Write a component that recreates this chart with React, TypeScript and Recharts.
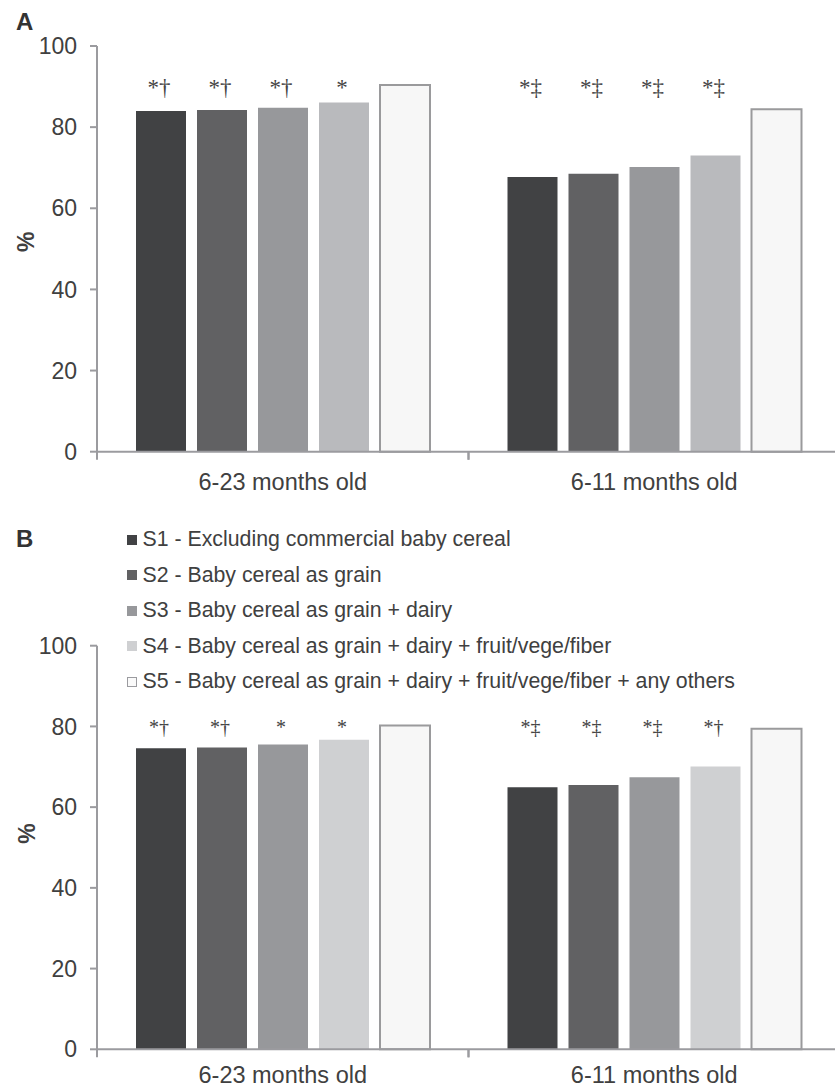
import { BarChart, Bar, XAxis, YAxis, LabelList, Legend, Label } from 'recharts';

const groups = ['6-23 months old', '6-11 months old'];
const yTicks = [0, 20, 40, 60, 80, 100];

const seriesNames = [
  'S1 - Excluding commercial baby cereal',
  'S2 - Baby cereal as grain',
  'S3 - Baby cereal as grain + dairy',
  'S4 - Baby cereal as grain + dairy + fruit/vege/fiber',
  'S5 - Baby cereal as grain + dairy + fruit/vege/fiber + any others',
];

// panel A
const s1A = [84.0, 67.7];
const s2A = [84.2, 68.5];
const s3A = [84.8, 70.2];
const s4A = [86.1, 73.0];
const s5A = [90.4, 84.4];
const m1A = ['*†', '*‡'];
const m2A = ['*†', '*‡'];
const m3A = ['*†', '*‡'];
const m4A = ['*', '*‡'];
const m5A = ['', ''];

// panel B
const s1B = [74.6, 64.9];
const s2B = [74.8, 65.5];
const s3B = [75.5, 67.4];
const s4B = [76.7, 70.1];
const s5B = [80.2, 79.4];
const m1B = ['*†', '*‡'];
const m2B = ['*†', '*‡'];
const m3B = ['*', '*‡'];
const m4B = ['*', '*†'];
const m5B = ['', ''];

const AXIS = '#9b9b9f';
const TEXT = '#404040';
const FONT = "'Liberation Sans', Arial, sans-serif";

const colorsA = ['#414244', '#616163', '#97989b', '#b9babd', '#f7f7f7'];
const colorsB = ['#414244', '#616163', '#97989b', '#cfd0d2', '#f7f7f7'];

const buildRows = (values: number[][], marks: string[][]) =>
  groups.map((g, i) => {
    const row: any = { group: g };
    values.forEach((v, k) => {
      row[`s${k + 1}`] = v[i];
      row[`m${k + 1}`] = marks[k][i];
    });
    return row;
  });

// category label centred in the band, with tick marks on the band edges
const makeGroupTick = (labelGap: number) => (props: any) => {
  const { x, y, payload } = props;
  const half = payload && payload.offset ? payload.offset : 185.75;
  return (
    <g>
      <line x1={x - half} x2={x - half} y1={y} y2={y + 8} stroke={AXIS} strokeWidth={2} />
      <line x1={x + half} x2={x + half} y1={y} y2={y + 8} stroke={AXIS} strokeWidth={2} />
      <text x={x} y={y + labelGap} dy="0.355em" textAnchor="middle" fontSize={23.5} fill={TEXT}>
        {payload.value}
      </text>
    </g>
  );
};

const LegendBox = ({ colors }: { colors: string[] }) => (
  <div style={{ fontFamily: FONT, fontSize: 21.3, color: TEXT }}>
    {seriesNames.map((name, i) => (
      <div key={name} style={{ height: 35.5, display: 'flex', alignItems: 'center', whiteSpace: 'nowrap' }}>
        <span
          style={{
            display: 'inline-block',
            width: i === 4 ? 8 : 10,
            height: i === 4 ? 8 : 10,
            background: i === 4 ? '#fafafa' : colors[i],
            border: i === 4 ? `1px solid ${AXIS}` : 'none',
            marginRight: 5.5,
          }}
        />
        {name}
      </div>
    ))}
  </div>
);

interface PanelProps {
  values: number[][];
  marks: string[][];
  colors: string[];
  top: number;
  height: number;
  plotTop: number;
  xAxisHeight: number;
  labelGap: number;
  markLevel: number;
  markSize: number;
  pctShift: number;
  withLegend?: boolean;
}

function Panel({ values, marks, colors, top, height, plotTop, xAxisHeight, labelGap, markLevel, markSize, pctShift, withLegend }: PanelProps) {
  const rows = buildRows(values, marks);

  // significance symbols sit at a fixed level on the value scale
  const markContent = (k: number) => (p: any) => {
    const vb = p.viewBox || p;
    const text = marks[k][p.index];
    if (!text || !vb || !vb.height) return null;
    const bottom = vb.y + vb.height;
    const unit = vb.height / values[k][p.index];
    return (
      <text
        x={vb.x + vb.width / 2 - 2}
        y={bottom - markLevel * unit}
        textAnchor="middle"
        fontSize={markSize}
        fontFamily="'Liberation Serif', 'Times New Roman', serif"
        fill="#444"
      >
        {text}
      </text>
    );
  };

  const pctLabel = (p: any) => {
    const vb = p.viewBox;
    const cx = 26.5;
    const cy = vb.y + vb.height / 2 + pctShift;
    return (
      <text
        x={cx}
        y={cy}
        transform={`rotate(-90, ${cx}, ${cy})`}
        textAnchor="middle"
        dominantBaseline="central"
        fontWeight="bold"
        fontSize={23}
        fill={TEXT}
      >
        %
      </text>
    );
  };

  const GroupTick = makeGroupTick(labelGap);

  return (
    <div style={{ position: 'absolute', left: 0, top }}>
      <BarChart
        width={840}
        height={height}
        data={rows}
        margin={{ top: plotTop, right: 0, bottom: 0, left: 0 }}
        barSize={50}
        barGap={11}
      >
        <XAxis
          dataKey="group"
          height={xAxisHeight}
          interval={0}
          tickLine={false}
          tickSize={0}
          tickMargin={0}
          axisLine={{ stroke: AXIS, strokeWidth: 2 }}
          tick={<GroupTick />}
        />
        <YAxis
          width={97}
          domain={[0, 100]}
          ticks={yTicks}
          interval={0}
          tickSize={7}
          tickMargin={13}
          axisLine={{ stroke: AXIS, strokeWidth: 2 }}
          tickLine={{ stroke: AXIS, strokeWidth: 2 }}
          tick={{ fill: TEXT, fontSize: 23 }}
        >
          <Label position="center" content={pctLabel} />
        </YAxis>
        {withLegend && (
          <Legend
            layout="horizontal"
            verticalAlign="middle"
            align="center"
            wrapperStyle={{ top: 22, left: 127, width: 'auto' }}
            content={() => <LegendBox colors={colors} />}
          />
        )}
        {colors.map((c, k) => (
          <Bar
            key={k}
            dataKey={`s${k + 1}`}
            name={seriesNames[k]}
            fill={c}
            stroke={k === 4 ? '#9a9a9c' : 'none'}
            strokeWidth={k === 4 ? 2 : 0}
            isAnimationActive={false}
          >
            <LabelList dataKey={`m${k + 1}`} content={markContent(k)} />
          </Bar>
        ))}
      </BarChart>
    </div>
  );
}

const panelLetter = (letter: string, top: number) => (
  <div
    style={{
      position: 'absolute',
      left: 16,
      top,
      fontFamily: FONT,
      fontWeight: 'bold',
      fontSize: 24,
      lineHeight: '24px',
      color: '#333',
    }}
  >
    {letter}
  </div>
);

export default function App() {
  return (
    <div
      style={{
        position: 'absolute',
        left: 0,
        top: 0,
        width: 835,
        height: 1088,
        overflow: 'hidden',
        background: '#fff',
        fontFamily: FONT,
      }}
    >
      <Panel
        values={[s1A, s2A, s3A, s4A, s5A]}
        marks={[m1A, m2A, m3A, m4A, m5A]}
        colors={colorsA}
        top={0}
        height={500}
        plotTop={46}
        xAxisHeight={48.3}
        labelGap={30}
        markLevel={88}
        markSize={23}
        pctShift={-7}
      />
      <Panel
        values={[s1B, s2B, s3B, s4B, s5B]}
        marks={[m1B, m2B, m3B, m4B, m5B]}
        colors={colorsB}
        top={500}
        height={588}
        plotTop={145.7}
        xAxisHeight={38.7}
        labelGap={25}
        markLevel={78}
        markSize={20}
        pctShift={-14}
        withLegend
      />
      {panelLetter('A', 10)}
      {panelLetter('B', 527)}
    </div>
  );
}
